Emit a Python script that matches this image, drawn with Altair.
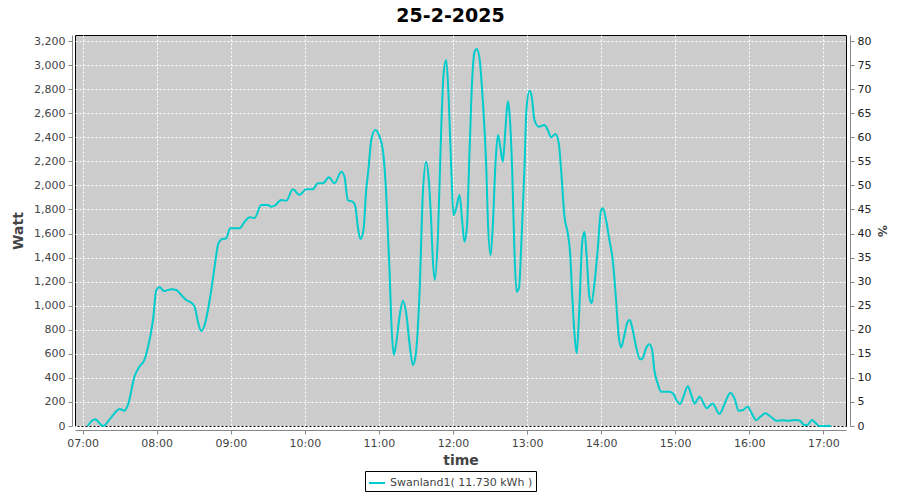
import altair as alt
import pandas as pd

times = ["07:04:00","07:10:00","07:16:30","07:23:00","07:30:00","07:34:00","07:36:42","07:42:00","07:46:00","07:50:00",
"07:53:00","07:57:00","07:59:42","08:02:18","08:06:00","08:11:48","08:15:54","08:19:54","08:24:00","08:28:00",
"08:30:42","08:33:24","08:36:06","08:38:48","08:41:30","08:44:12","08:46:54","08:50:00","08:53:00","08:56:18",
"08:59:30","09:07:00","09:11:12","09:15:12","09:19:18","09:24:42","09:30:00","09:32:48","09:35:30","09:40:54",
"09:44:54","09:50:18","09:55:42","10:01:06","10:06:30","10:10:30","10:14:36","10:19:30","10:24:00","10:29:30",
"10:32:06","10:34:48","10:38:54","10:41:00","10:42:54","10:45:00","10:47:30","10:49:42","10:51:30","10:53:48",
"10:57:00","11:00:30","11:03:12","11:05:54","11:08:36","11:10:00","11:12:00","11:14:00","11:16:42","11:19:24",
"11:22:06","11:24:48","11:27:30","11:29:36","11:32:54","11:35:36","11:38:18","11:40:24","11:42:18","11:43:42",
"11:45:18","11:47:48","11:50:24","11:52:18","11:54:30","11:56:24","11:58:36","12:00:24","12:02:36","12:05:18",
"12:07:30","12:09:18","12:11:12","12:13:24","12:15:36","12:17:30","12:19:18","12:21:30","12:24:12","12:27:00",
"12:28:18","12:30:30","12:32:18","12:34:30","12:36:24","12:38:30","12:40:24","12:42:30","12:44:24","12:45:42",
"12:47:54","12:49:48","12:51:30","12:53:30","12:55:12","12:57:54","12:59:30","13:02:00","13:03:48","13:06:00",
"13:09:30","13:14:06","13:16:48","13:19:30","13:23:00","13:25:42","13:27:36","13:30:18","13:33:00","13:34:54",
"13:36:30","13:38:24","13:40:12","13:42:24","13:44:36","13:46:30","13:48:18","13:50:30","13:52:18","13:54:36",
"13:57:12","14:00:00","14:01:30","14:04:00","14:06:42","14:09:24","14:12:06","14:14:18","14:16:12","14:18:30",
"14:21:30","14:23:18","14:25:36","14:28:18","14:31:36","14:33:30","14:36:24","14:39:06","14:41:18","14:43:06",
"14:45:48","14:48:36","14:55:18","14:58:36","15:01:18","15:04:00","15:06:42","15:10:12","15:13:00","15:15:42",
"15:19:48","15:23:00","15:25:30","15:30:18","15:35:48","15:40:42","15:44:42","15:48:00","15:51:24","15:55:00",
"15:58:42","16:02:00","16:05:30","16:09:00","16:13:00","16:17:30","16:22:12","16:27:00","16:32:30","16:37:54",
"16:41:00","16:44:36","16:47:00","16:50:48","16:54:00","16:56:48","17:06:12"]

watts = [0,56,0,70,141,127,175,410,493,549,
659,881,1130,1153,1122,1136,1130,1089,1047,1025,
992,867,790,840,964,1130,1324,1518,1554,1560,
1643,1643,1698,1735,1729,1837,1837,1823,1831,1878,
1873,1967,1920,1967,1967,2017,2017,2067,2017,2114,
2072,1878,1864,1823,1657,1554,1629,1962,2130,2377,
2460,2405,2294,1934,1297,881,590,687,908,1042,
937,687,507,576,1103,1934,2197,2045,1712,1380,
1214,1580,2450,2917,3042,2751,2142,1754,1809,1920,
1698,1532,1643,2280,2890,3111,3134,3056,2696,2142,
1698,1421,1671,2197,2419,2308,2197,2474,2700,2613,
2142,1449,1116,1150,1477,2142,2630,2787,2737,2543,
2488,2502,2460,2400,2427,2350,2128,1740,1602,1435,
1103,770,604,992,1518,1615,1407,1075,1020,1186,
1463,1795,1809,1712,1546,1380,1047,742,654,740,
867,881,798,659,554,562,646,679,632,465,
355,285,285,266,210,183,244,330,258,188,
244,188,147,188,100,202,277,230,127,133,
160,105,50,77,105,77,44,47,44,50,
44,8,8,50,22,0,0]

series_name = "Swanland1( 11.730 kWh )"
hour_ticks = [7, 8, 9, 10, 11, 12, 13, 14, 15, 16, 17]


def to_hours(s):
    h, m, sec = (int(v) for v in s.split(":"))
    return h + m / 60 + sec / 3600


df = pd.DataFrame({
    "hour": [to_hours(t) for t in times],
    "watt": watts,
    "series": series_name,
})

FONT = "DejaVu Sans"
TXT = "#444444"
AX = "#888888"

xenc = alt.X(
    "hour:Q",
    scale=alt.Scale(domain=[6.897, 17.306], nice=False, zero=False),
    axis=alt.Axis(
        values=hour_ticks,
        labelExpr="(datum.value < 10 ? '0' : '') + datum.value + ':00'",
        title="time",
        offset=4,
        grid=True,
        gridColor="white",
        gridDash=[2, 2],
        gridWidth=1,
        domainColor=AX,
        tickColor=AX,
        tickSize=4,
        labelColor=TXT,
        labelFont=FONT,
        labelFontSize=11,
        labelPadding=3,
        titleColor=TXT,
        titleFont=FONT,
        titleFontSize=14,
        titleFontWeight="bold",
        titlePadding=5,
    ),
)

left = alt.Chart(df).mark_line(strokeWidth=2, interpolate="monotone").encode(
    x=xenc,
    y=alt.Y(
        "watt:Q",
        scale=alt.Scale(domain=[0, 3250], nice=False),
        axis=alt.Axis(
            values=list(range(0, 3201, 200)),
            format=",d",
            title="Watt",
            offset=3,
            grid=True,
            gridColor="white",
            gridDash=[2, 2],
            domainColor=AX,
            tickColor=AX,
            tickSize=4,
            labelColor=TXT,
            labelFont=FONT,
            labelFontSize=11,
            labelPadding=3,
            titleColor=TXT,
            titleFont=FONT,
            titleFontSize=14,
            titleFontWeight="bold",
            titlePadding=8,
        ),
    ),
    color=alt.Color(
        "series:N",
        scale=alt.Scale(range=["#00CCCC"]),
        legend=alt.Legend(
            title=None,
            orient="none",
            legendX=290,
            legendY=436,
            symbolType="stroke",
            symbolSize=256,
            symbolStrokeWidth=2,
            labelFont=FONT,
            labelFontSize=11,
            labelColor=TXT,
            strokeColor="black",
            padding=3,
            labelOffset=4,
        ),
    ),
)

right = alt.Chart(df).transform_calculate(
    pct="datum.watt / 40"
).mark_line(strokeOpacity=0).encode(
    x=xenc,
    y=alt.Y(
        "pct:Q",
        scale=alt.Scale(domain=[0, 81.25], nice=False),
        axis=alt.Axis(
            orient="right",
            values=list(range(0, 81, 5)),
            format="d",
            title="%",
            offset=4,
            grid=False,
            domainColor=AX,
            tickColor=AX,
            tickSize=4,
            labelColor="#222222",
            labelFont=FONT,
            labelFontSize=11,
            labelPadding=3,
            titleColor=TXT,
            titleFont=FONT,
            titleFontSize=12,
            titlePadding=4,
        ),
    ),
)

chart = alt.layer(left, right).resolve_scale(y="independent").properties(
    width=771,
    height=391,
    autosize=alt.AutoSizeParams(type="none"),
    padding={"left": 67, "top": 27, "right": 46, "bottom": 66},
    title=alt.TitleParams(
        "25-2-2025",
        font=FONT,
        fontSize=19,
        fontWeight="bold",
        color="black",
        anchor="middle",
        dx=-10,
        offset=9,
    ),
).configure_view(
    fill="#CCCCCC",
    stroke="black",
    strokeWidth=1,
)

chart.save("out.html", embed_options={"renderer": "svg", "actions": False})
